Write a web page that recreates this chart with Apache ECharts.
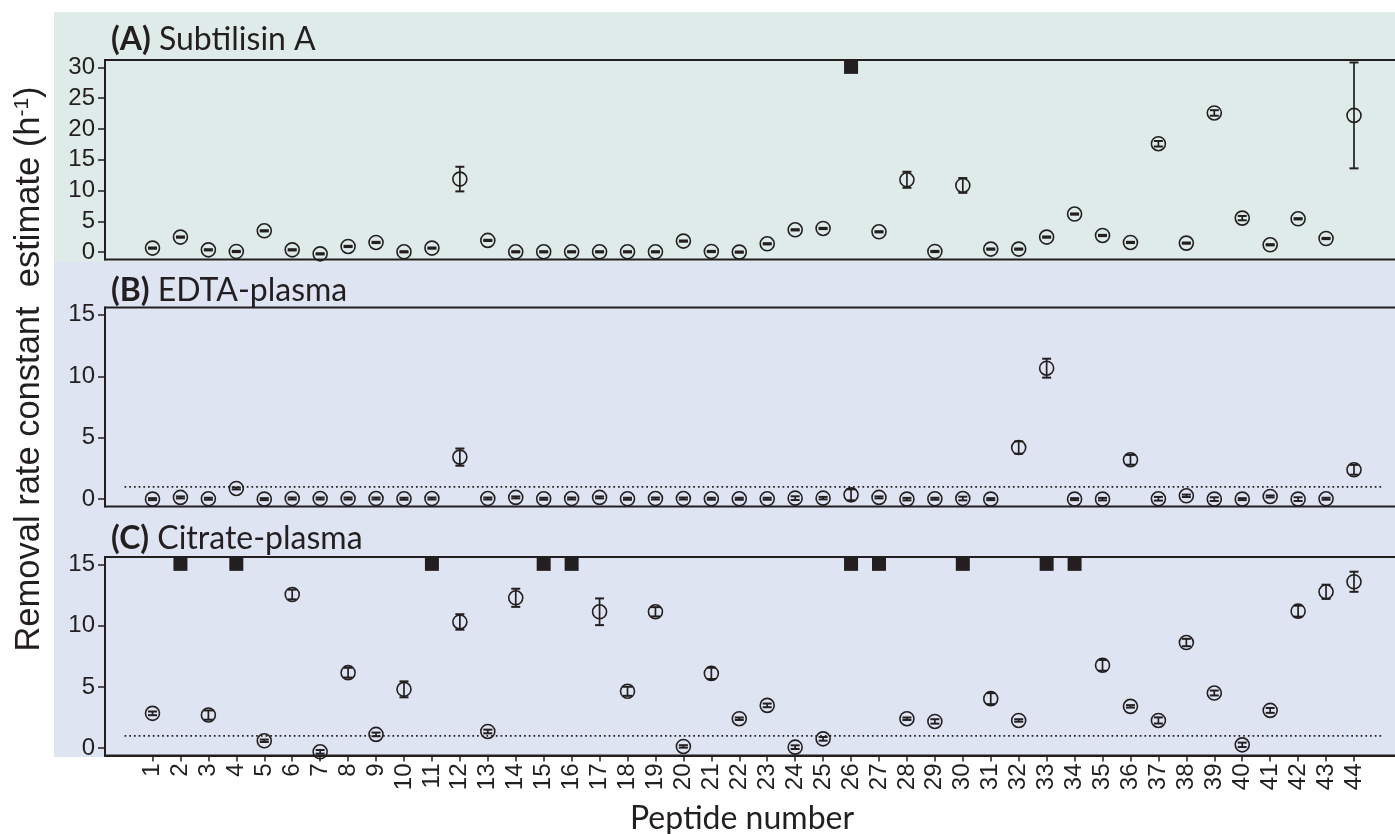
<!DOCTYPE html>
<html><head><meta charset="utf-8">
<script src="https://cdn.jsdelivr.net/npm/echarts@6/dist/echarts.min.js"></script>
<style>html,body{margin:0;padding:0;background:#fff}#c{width:1395px;height:834px}</style>
</head><body><div id="c"></div>
<script>
const peptides = [1,2,3,4,5,6,7,8,9,10,11,12,13,14,15,16,17,18,19,20,21,22,23,24,25,26,27,28,29,30,31,32,33,34,35,36,37,38,39,40,41,42,43,44];

// Panel A: Subtilisin A (null = off-scale, shown as filled square at the top)
const valA = [0.65,2.44,0.37,0.1,3.46,0.37,-0.28,0.92,1.57,0.05,0.65,11.86,1.9,0.05,0.05,0.05,0.05,0.05,0.05,1.79,0.1,0.0,1.35,3.62,3.84,null,3.3,11.75,0.1,10.83,0.49,0.49,2.44,6.18,2.7,1.57,17.6,1.46,22.6,5.52,1.19,5.41,2.21,22.2];
const errA = [0.1,0.1,0.1,0.1,0.1,0.1,0.1,0.1,0.1,0.1,0.1,2.0,0.1,0.1,0.1,0.1,0.1,0.1,0.1,0.1,0.1,0.1,0.1,0.1,0.1,0,0.1,1.3,0.1,1.2,0.1,0.1,0.1,0.1,0.1,0.1,0.45,0.1,0.45,0.35,0.1,0.1,0.1,8.6];
const offA = [26];

// Panel B: EDTA-plasma
const valB = [0,0.14,0.03,0.87,0,0.05,0.05,0.05,0.05,0.03,0.05,3.42,0.05,0.14,0.03,0.05,0.14,0.03,0.05,0.05,0.03,0.03,0.03,0.08,0.08,0.35,0.14,0,0.03,0.05,0,4.2,10.66,0,0,3.2,0.03,0.27,0,0,0.22,0,0.03,2.39];
const errB = [0.08,0.08,0.08,0.08,0.08,0.08,0.08,0.08,0.08,0.08,0.08,0.7,0.08,0.08,0.08,0.08,0.08,0.08,0.08,0.08,0.08,0.08,0.08,0.15,0.1,0.45,0.08,0.1,0.08,0.15,0.08,0.5,0.77,0.08,0.1,0.4,0.15,0.1,0.15,0.08,0.08,0.15,0.08,0.4];

// Panel C: Citrate-plasma
const valC = [2.84,null,2.7,null,0.6,12.54,-0.3,6.16,1.12,4.8,null,10.3,1.36,12.27,null,null,11.13,4.64,11.13,0.14,6.1,2.4,3.49,0.08,0.76,null,null,2.4,2.18,null,4.04,2.26,null,null,6.76,3.41,2.26,8.62,4.5,0.27,3.08,11.18,12.76,13.58];
const errC = [0.15,0,0.38,0,0.1,0.4,0.15,0.4,0.15,0.65,0,0.63,0.15,0.74,0,0,1.09,0.37,0.38,0.1,0.46,0.1,0.15,0.15,0.15,0,0,0.1,0.18,0,0.45,0.1,0,0,0.44,0.1,0.25,0.3,0.2,0.18,0.2,0.45,0.58,0.82];
const offC = [2,4,11,15,16,26,27,30,33,34];

const yTicksA = [0,5,10,15,20,25,30];
const yTicksBC = [0,5,10,15];
const threshold = 1;
const titles = [['(A)',' Subtilisin A'],['(B)',' EDTA-plasma'],['(C)',' Citrate-plasma']];

const INK = '#231f20';
const chart = echarts.init(document.getElementById('c'), null, {renderer:'canvas'});

function pts(vals){ const o=[]; vals.forEach((v,i)=>{ if(v!==null) o.push([peptides[i], v]); }); return o; }
function bars(vals, errs){ const o=[]; vals.forEach((v,i)=>{ if(v!==null) o.push([peptides[i], v-errs[i], v+errs[i]]); }); return o; }

function errRender(params, api){
  const x = api.value(0), lo = api.value(1), hi = api.value(2);
  const a = api.coord([x, hi]), b = api.coord([x, lo]);
  const hw = 4.5;
  const st = {stroke: INK, lineWidth: 1.7};
  return {type:'group', children:[
    {type:'line', shape:{x1:a[0],y1:a[1],x2:b[0],y2:b[1]}, style:st},
    {type:'line', shape:{x1:a[0]-hw,y1:a[1],x2:a[0]+hw,y2:a[1]}, style:{stroke:INK,lineWidth:2}},
    {type:'line', shape:{x1:b[0]-hw,y1:b[1],x2:b[0]+hw,y2:b[1]}, style:{stroke:INK,lineWidth:2}}
  ]};
}

const grids = [
  {left:105, top:60, height:199.5, right:-6.5},
  {left:105, top:307.5, height:199, right:-6.5},
  {left:105, top:557, height:198.5, right:-6.5}
].map(g=>Object.assign(g,{show:true, borderColor:INK, borderWidth:2, backgroundColor:'transparent', containLabel:false, outerBoundsMode:'none'}));

const xAxes = [0,1,2].map(i=>({
  type:'value', gridIndex:i, min:-0.7, max:45.7,
  splitLine:{show:false}, axisLine:{show:i===2, onZero:false, lineStyle:{color:INK,width:2}},
  axisTick:{show:i===2, length:6, customValues:peptides, lineStyle:{color:INK,width:1.5}},
  axisLabel:{show:i===2, customValues:peptides, rotate:90, margin:8, fontFamily:'Liberation Sans', fontSize:24, color:INK}
}));

const yr = [[-1.2,31.2,yTicksA],[-0.6,15.6,yTicksBC],[-0.6,15.6,yTicksBC]];
const yAxes = yr.map((r,i)=>({
  type:'value', gridIndex:i, min:r[0], max:r[1],
  splitLine:{show:false}, axisLine:{show:true, onZero:false, lineStyle:{color:INK,width:2}},
  axisTick:{show:true, length:7, customValues:r[2], lineStyle:{color:INK,width:1.5}},
  axisLabel:{customValues:r[2], margin:10, fontFamily:'Liberation Sans', fontSize:24, color:INK}
}));

const series = [];
[[valA,errA,offA,30],[valB,errB,[],15],[valC,errC,offC,15]].forEach((p,i)=>{
  series.push({type:'custom', xAxisIndex:i, yAxisIndex:i, renderItem:errRender, data:bars(p[0],p[1]), encode:{x:0,y:[1,2]}, z:3, silent:true});
  series.push({type:'scatter', xAxisIndex:i, yAxisIndex:i, data:pts(p[0]), symbol:'circle', symbolSize:14,
    itemStyle:{color:'rgba(0,0,0,0)', borderColor:INK, borderWidth:1.6, opacity:1}, z:4, silent:true});
  if(p[2].length) series.push({type:'scatter', xAxisIndex:i, yAxisIndex:i, data:p[2].map(n=>[n,p[3]]), symbol:'rect', symbolSize:[14,13],
    itemStyle:{color:INK, opacity:1}, z:4, silent:true});
  if(i>0) series.push({type:'line', xAxisIndex:i, yAxisIndex:i, data:[[0,threshold],[45,threshold]], symbol:'none',
    lineStyle:{color:INK, width:1.7, type:[1.7,3]}, z:2, silent:true});
});

const titleY = [40, 290.5, 538.5];
const graphic = [
  {type:'rect', shape:{x:54, y:12, width:1341, height:250}, style:{fill:'#dfebe8'}, z:-10, silent:true},
  {type:'rect', shape:{x:54, y:262, width:1341, height:495}, style:{fill:'#dfe4f2'}, z:-10, silent:true},
  {type:'text', x:742, y:819, z:10, style:{text:'Peptide number', fontFamily:'Lato', fontSize:32, fill:INK, align:'center', verticalAlign:'middle'}},
  {type:'text', x:29, y:369, rotation:Math.PI/2, z:10, style:{text:'Removal rate constant  estimate (h{sup|-1})', fontFamily:'Liberation Sans', fontSize:34.5, fill:INK, align:'center', verticalAlign:'middle',
    rich:{sup:{fontFamily:'Liberation Sans', fontSize:21, fill:INK, verticalAlign:'top'}}}}
];
titles.forEach((t,i)=>{
  graphic.push({type:'text', x:111, y:titleY[i], z:10, style:{text:'{b|'+t[0]+'}'+t[1], fontFamily:'Lato', fontSize:32, fill:INK, align:'left', verticalAlign:'middle',
    rich:{b:{fontFamily:'Lato', fontWeight:'bold', fontSize:32, fill:INK}}}});
});

chart.setOption({animation:false, backgroundColor:'#ffffff', grid:grids, xAxis:xAxes, yAxis:yAxes, series:series, graphic:graphic});
</script></body></html>
